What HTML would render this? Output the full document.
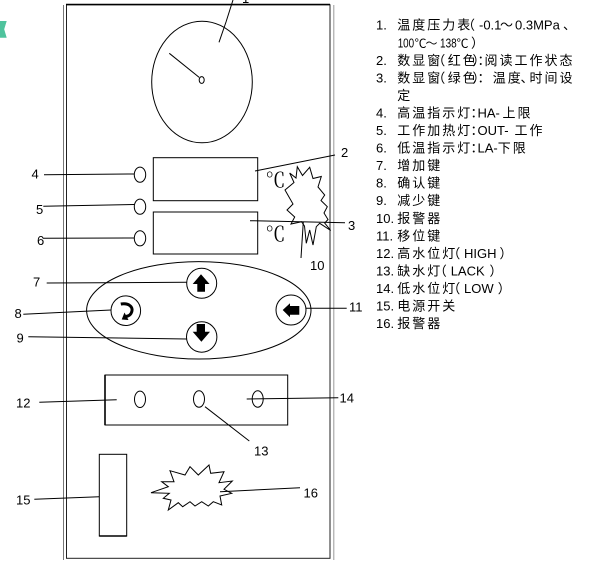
<!DOCTYPE html>
<html>
<head>
<meta charset="utf-8">
<style>
  html,body{margin:0;padding:0;background:#fff;}
  body{width:616px;height:572px;overflow:hidden;position:relative;}
  svg{position:absolute;left:0;top:0;}
  text{font-family:"Liberation Sans","Noto Sans CJK SC",sans-serif;font-size:13px;fill:#000;}
  .c{letter-spacing:2px;}
  .p{font-feature-settings:"halt";}
  .deg{font-family:"Liberation Serif","Noto Serif CJK SC",serif;font-size:20px;fill:#000;}
  .sm{font-size:12px;}
</style>
</head>
<body>
<svg width="616" height="572" viewBox="0 0 616 572" xmlns="http://www.w3.org/2000/svg">
  <!-- green mark top-left -->
  <polygon points="0,21 6.7,21 4.2,29.3 6.7,37.7 0,37.7" fill="#4fc39d"/>

  <g fill="none" stroke="#000" stroke-width="1">
    <!-- panel -->
    <line x1="63.5" y1="5" x2="63.5" y2="560" stroke="#777"/>
    <line x1="333.8" y1="5" x2="333.8" y2="560" stroke="#999"/>
    <rect x="66.5" y="4.8" width="263.5" height="553.5" stroke="#222"/>
    <line x1="66" y1="4.5" x2="330" y2="4.5" stroke-width="1.6"/>

    <!-- gauge -->
    <ellipse cx="202" cy="82" rx="50.3" ry="60.8"/>
    <ellipse cx="201.7" cy="80" rx="2.5" ry="3.4"/>
    <line x1="169.3" y1="53.3" x2="199.2" y2="77.4"/>
    <path d="M219,42.3 L226,22 L233,0"/>

    <!-- displays -->
    <rect x="153.3" y="157.7" width="104.4" height="43"/>
    <rect x="153.3" y="212" width="104.4" height="42"/>

    <!-- LEDs -->
    <ellipse cx="140" cy="174.7" rx="5.7" ry="7.6"/>
    <ellipse cx="140" cy="206.7" rx="5.7" ry="7.6"/>
    <ellipse cx="140" cy="238.3" rx="5.7" ry="7.6"/>
    <line x1="44" y1="174.7" x2="134.3" y2="174"/>
    <line x1="43.3" y1="206.2" x2="134.3" y2="204.5"/>
    <line x1="42.7" y1="238.3" x2="134.3" y2="238"/>

    <!-- leader 2 -->
    <line x1="255" y1="171" x2="335" y2="155"/>

    <!-- starburst 10 -->
    <polygon points="289.7,173 296,178 297.3,166.7 302.5,175.5 309.7,167.3 313,178.5 321.3,176.5 318,187 324.7,195 321,200.5 327.3,206.7 324,213 328,219.5 324.7,223 330.7,230.5 319.7,223.3 316.3,226.7 313,245 309.7,230 306.3,243.3 304.5,226 301.5,221.7 291,224 294.7,217 287,210 293,204 285,190 294,182.5" fill="#fff"/>
    <line x1="303.3" y1="221.7" x2="301" y2="258"/>
    <line x1="250" y1="220.7" x2="345" y2="222.7"/>

    <!-- button ellipse -->
    <ellipse cx="198.8" cy="310.3" rx="112.2" ry="48.7"/>
    <line x1="46.7" y1="283" x2="186.7" y2="282.3"/>
    <line x1="23.3" y1="314.3" x2="111" y2="310"/>
    <line x1="28.3" y1="336.7" x2="186.7" y2="339"/>
    <line x1="304" y1="308.3" x2="346.7" y2="308.3"/>
    <circle cx="201.7" cy="283.3" r="15" fill="#fff"/>
    <circle cx="201.7" cy="337" r="15.2" fill="#fff"/>
    <circle cx="125.8" cy="310.7" r="14.8" fill="#fff"/>
    <circle cx="291" cy="310" r="15" fill="#fff"/>

    <!-- water level box -->
    <rect x="105" y="375" width="182.7" height="50"/>
    <line x1="105" y1="375" x2="105" y2="425" stroke-width="1.6"/>
    <ellipse cx="140" cy="399.3" rx="5.5" ry="8.2"/>
    <ellipse cx="199" cy="399" rx="5.5" ry="8.2"/>
    <ellipse cx="257.7" cy="399" rx="5.5" ry="8.2"/>
    <line x1="39.3" y1="402.3" x2="116.7" y2="399.7"/>
    <line x1="246.7" y1="399" x2="338.3" y2="397.7"/>
    <line x1="205" y1="406.7" x2="249.3" y2="441"/>

    <!-- power switch -->
    <rect x="99.3" y="454.3" width="27.4" height="81.7"/>
    <line x1="99.3" y1="536" x2="126.7" y2="536" stroke-width="1.6"/>
    <line x1="34.3" y1="499.3" x2="99.3" y2="496.7"/>

    <!-- starburst 16 -->
    <polygon points="151,492.7 168.3,486.7 161.7,481.7 174,481.7 170,470.7 185,475 190,466.7 198.3,475 209,465 210.7,473.3 224,471.7 219,482.7 232.3,481 224,489.3 231.7,493.3 220,496 221.7,505 213.3,501.7 208.3,506 201.7,501.7 195,506 190,501.7 182.7,506.7 178.3,502.7 168.3,510 171,500 163.3,498.3 169.3,493.3"/>
    <line x1="220" y1="491.7" x2="300" y2="487.7"/>
  </g>

  <!-- button icons -->
  <g fill="#000">
    <polygon points="201,274.3 209.5,284 205,284 205,291.7 197.3,291.7 197.3,284 192.7,284"/>
    <polygon points="196.7,324 205,324 205,331.7 210,331.7 201.4,341.7 192.7,331.7 196.7,331.7"/>
    <polygon points="282.7,310 290,303.3 290,306 299.3,306 299.3,314.7 290,314.7 290,317.3"/>
    <polygon points="121.7,319.5 124.5,312.5 128.5,320"/>
  </g>
  <path d="M120.8,304 C129,302.5 134.5,307.5 131,313.5 C129.8,315.4 128,316.2 126,316.5" fill="none" stroke="#000" stroke-width="3"/>

  <!-- degree symbols -->
  <text class="deg" x="265.5" y="187">℃</text>
  <text class="deg" x="265.5" y="241">℃</text>

  <!-- diagram labels -->
  <text x="242" y="3">1</text>
  <text x="341" y="157">2</text>
  <text x="348" y="230">3</text>
  <text x="31.5" y="178.5">4</text>
  <text x="36" y="214">5</text>
  <text x="37" y="245">6</text>
  <text x="310" y="270">10</text>
  <text x="33" y="286.7">7</text>
  <text x="14.5" y="318">8</text>
  <text x="16.5" y="342.7">9</text>
  <text x="349" y="311.7">11</text>
  <text x="16" y="407.3">12</text>
  <text x="339.5" y="402.7">14</text>
  <text x="254" y="455.7">13</text>
  <text x="16" y="504.3">15</text>
  <text x="303.5" y="497.5">16</text>

  <!-- legend list -->
  <!-- 1 -->
  <text x="376" y="29.7">1.</text>
  <text class="c" x="397.2" y="29.7">温度压力表</text>
  <text class="p" x="468.5" y="29.7">（</text>
  <text x="479" y="29.7">-0.1</text>
  <text x="500" y="29.7">～</text>
  <text x="515" y="29.7">0.3MPa</text>
  <text x="563" y="29.7">、</text>
  <!-- 1 cont -->
  <text x="397.7" y="47.25" textLength="16.5" lengthAdjust="spacingAndGlyphs">100</text>
  <text class="sm" x="414.5" y="47.25">℃</text>
  <text class="sm" x="425.5" y="47.25">～</text>
  <text x="440" y="47.25" textLength="16.7" lengthAdjust="spacingAndGlyphs">138</text>
  <text class="sm" x="456.5" y="47.25">℃</text>
  <text class="p" x="471" y="47.25">）</text>
  <!-- 2 -->
  <text x="376" y="64.8">2.</text>
  <text class="c" x="397.2" y="64.8">数显窗</text>
  <text class="p" x="438.7" y="64.8">（</text>
  <text class="c" x="447.8" y="64.8">红色</text>
  <text class="p" x="472.5" y="64.8">）</text>
  <text class="p" x="477.5" y="64.8">：</text>
  <text class="c" x="484.5" y="64.8">阅读工作状态</text>
  <!-- 3 -->
  <text x="376" y="82.35">3.</text>
  <text class="c" x="397.2" y="82.35">数显窗</text>
  <text class="p" x="438.7" y="82.35">（</text>
  <text class="c" x="447.8" y="82.35">绿色</text>
  <text class="p" x="472.5" y="82.35">）</text>
  <text class="p" x="477.5" y="82.35">：</text>
  <text class="c" x="492.8" y="82.35">温度</text>
  <text x="520.5" y="82.35">、</text>
  <text class="c" x="529.5" y="82.35">时间设</text>
  <text class="c" x="397.2" y="99.9">定</text>
  <!-- 4 -->
  <text x="376" y="117.45">4.</text>
  <text class="c" x="397.2" y="117.45">高温指示灯</text>
  <text class="p" x="470.5" y="117.45">：</text>
  <text x="477.5" y="117.45">HA-</text>
  <text class="c" x="502.5" y="117.45">上限</text>
  <!-- 5 -->
  <text x="376" y="135">5.</text>
  <text class="c" x="397.2" y="135">工作加热灯</text>
  <text class="p" x="470.5" y="135">：</text>
  <text x="477.5" y="135">OUT-</text>
  <text class="c" x="514.5" y="135">工作</text>
  <!-- 6 -->
  <text x="376" y="152.55">6.</text>
  <text class="c" x="397.2" y="152.55">低温指示灯</text>
  <text class="p" x="470.5" y="152.55">：</text>
  <text x="477.5" y="152.55">LA-</text>
  <text class="c" x="497.8" y="152.55">下限</text>
  <!-- 7-11 -->
  <text x="376" y="170.1">7.</text>
  <text class="c" x="397.2" y="170.1">增加键</text>
  <text x="376" y="187.65">8.</text>
  <text class="c" x="397.2" y="187.65">确认键</text>
  <text x="376" y="205.2">9.</text>
  <text class="c" x="397.2" y="205.2">减少键</text>
  <text x="376" y="222.75">10.</text>
  <text class="c" x="397.2" y="222.75">报警器</text>
  <text x="376" y="240.3">11.</text>
  <text class="c" x="397.2" y="240.3">移位键</text>
  <!-- 12 -->
  <text x="376" y="257.85">12.</text>
  <text class="c" x="397.2" y="257.85">高水位灯</text>
  <text class="p" x="453.7" y="257.85">（</text>
  <text x="464" y="257.85">HIGH</text>
  <text class="p" x="499.5" y="257.85">）</text>
  <!-- 13 -->
  <text x="376" y="275.4">13.</text>
  <text class="c" x="397.2" y="275.4">缺水灯</text>
  <text class="p" x="440.3" y="275.4">（</text>
  <text x="450.7" y="275.4">LACK</text>
  <text class="p" x="489.5" y="275.4">）</text>
  <!-- 14 -->
  <text x="376" y="292.95">14.</text>
  <text class="c" x="397.2" y="292.95">低水位灯</text>
  <text class="p" x="453.7" y="292.95">（</text>
  <text x="464" y="292.95">LOW</text>
  <text class="p" x="497.8" y="292.95">）</text>
  <!-- 15, 16 -->
  <text x="376" y="310.5">15.</text>
  <text class="c" x="397.2" y="310.5">电源开关</text>
  <text x="376" y="328.05">16.</text>
  <text class="c" x="397.2" y="328.05">报警器</text>
</svg>
</body>
</html>
